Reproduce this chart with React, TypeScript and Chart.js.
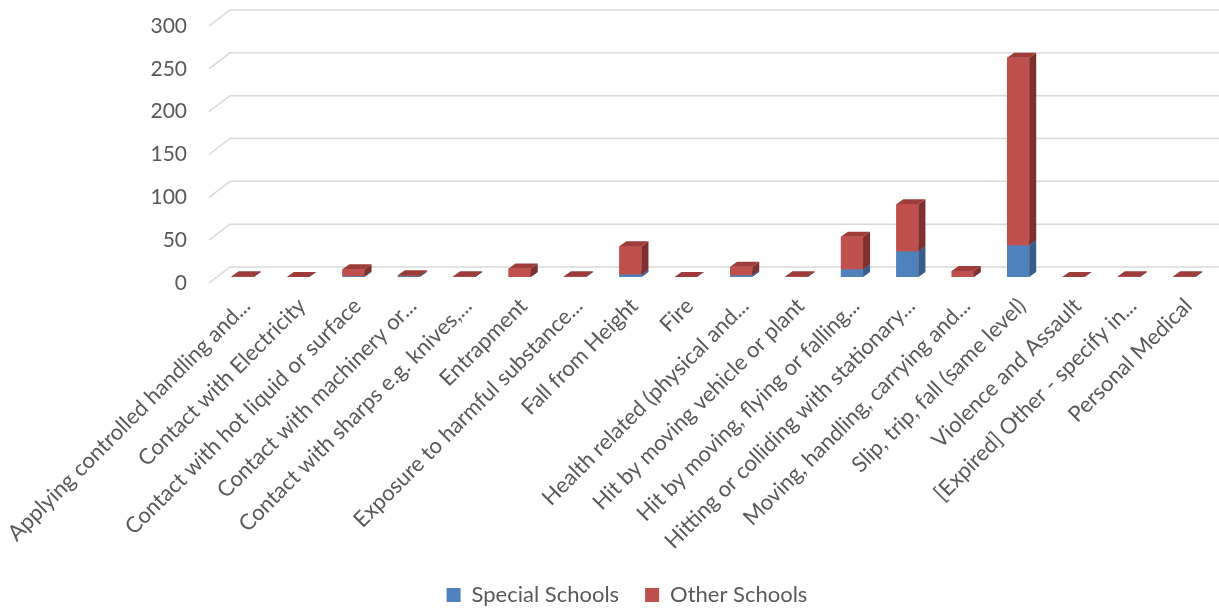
import React, { useEffect, useRef } from 'react';
import { Chart, registerables } from 'chart.js';

Chart.register(...registerables);

const categories = [
  'Applying controlled handling and...',
  'Contact with Electricity',
  'Contact with hot liquid or surface',
  'Contact with machinery or...',
  'Contact with sharps e.g. knives,...',
  'Entrapment',
  'Exposure to harmful substance...',
  'Fall from Height',
  'Fire',
  'Health related (physical and...',
  'Hit by moving vehicle or plant',
  'Hit by moving, flying or falling...',
  'Hitting or colliding with stationary...',
  'Moving, handling, carrying and...',
  'Slip, trip, fall (same level)',
  'Violence and Assault',
  '[Expired] Other - specify in...',
  'Personal Medical',
];

const specialSchools = [0, 0, 1, 1, 0, 0, 0, 3, 0, 2, 0, 9, 30, 0, 37, 0, 0, 0];
const otherSchools = [1, 0, 8, 1, 1, 10, 1, 33, 0, 10, 1, 38, 55, 7, 219, 0, 1, 1];

const yMax = 300;
const yStep = 50;

const FONT = 'Lato, "Noto Sans", sans-serif';
const TEXT = '#595959';
const GRID = '#D9D9D9';
const DX = 7;
const DY = 5;

const faces = [
  { front: '#4F81BD', side: '#385D8A', top: '#4672A8' },
  { front: '#C0504D', side: '#7F302E', top: '#9E3C39' },
];

const zeroPad = (s: any) => {
  s.paddingTop = 0;
  s.paddingBottom = 0;
  s.paddingLeft = 0;
  s.paddingRight = 0;
};

const gridPlugin = {
  id: 'grid3d',
  beforeDatasetsDraw(chart: any) {
    const { ctx, chartArea } = chart;
    const yScale = chart.scales.y;
    ctx.save();
    ctx.strokeStyle = GRID;
    ctx.lineWidth = 1.5;
    yScale.ticks.forEach((t: any) => {
      const y = yScale.getPixelForValue(t.value);
      ctx.beginPath();
      ctx.moveTo(chartArea.left - 6, y + 6);
      ctx.lineTo(chartArea.left + 15, y - 10);
      ctx.lineTo(chart.width, y - 10);
      ctx.stroke();
    });
    ctx.restore();
  },
};

const barsPlugin = {
  id: 'bars3d',
  afterDatasetsDraw(chart: any) {
    const { ctx } = chart;
    ctx.save();
    chart.data.datasets.forEach((_ds: any, di: number) => {
      const meta = chart.getDatasetMeta(di);
      const f = faces[di];
      meta.data.forEach((bar: any) => {
        const { x, y, base, width } = bar.getProps(['x', 'y', 'base', 'width'], true);
        const l = x - width / 2;
        const r = x + width / 2;
        const top = Math.min(y, base);
        const bottom = Math.max(y, base);
        ctx.fillStyle = f.front;
        ctx.fillRect(l, top, width, bottom - top);
        ctx.fillStyle = f.side;
        ctx.beginPath();
        ctx.moveTo(r, bottom);
        ctx.lineTo(r + DX, bottom - DY);
        ctx.lineTo(r + DX, top - DY);
        ctx.lineTo(r, top);
        ctx.closePath();
        ctx.fill();
        ctx.fillStyle = f.top;
        ctx.beginPath();
        ctx.moveTo(l, top);
        ctx.lineTo(l + DX, top - DY);
        ctx.lineTo(r + DX, top - DY);
        ctx.lineTo(r, top);
        ctx.closePath();
        ctx.fill();
      });
    });
    ctx.restore();
  },
};

export default function App() {
  const ref = useRef<HTMLCanvasElement>(null);

  useEffect(() => {
    const chart = new Chart(ref.current as HTMLCanvasElement, {
      type: 'bar',
      data: {
        labels: categories,
        datasets: [
          {
            label: 'Special Schools',
            data: specialSchools,
            backgroundColor: faces[0].front,
            categoryPercentage: 1,
            barPercentage: 0.4,
          },
          {
            label: 'Other Schools',
            data: otherSchools,
            backgroundColor: faces[1].front,
            categoryPercentage: 1,
            barPercentage: 0.4,
          },
        ],
      },
      options: {
        responsive: false,
        animation: false,
        devicePixelRatio: 1,
        layout: {
          autoPadding: false,
          padding: { top: 20, right: 7, bottom: -4, left: 42 },
        },
        plugins: {
          legend: {
            position: 'bottom',
            labels: {
              boxWidth: 14,
              boxHeight: 14,
              padding: 26,
              color: TEXT,
              font: { family: FONT, size: 22 },
            },
          },
          tooltip: { enabled: false },
        },
        scales: {
          x: {
            stacked: true,
            grid: { display: false, drawTicks: false },
            border: { display: false },
            afterFit: (s: any) => {
              s.height = 281;
              zeroPad(s);
            },
            ticks: {
              autoSkip: false,
              maxRotation: 45,
              minRotation: 45,
              padding: 16,
              labelOffset: 4,
              color: TEXT,
              font: { family: FONT, size: 22 },
            },
          },
          y: {
            stacked: true,
            min: 0,
            max: yMax,
            grid: { display: false, drawTicks: false },
            border: { display: false },
            afterFit: (s: any) => {
              s.width = 173;
              zeroPad(s);
            },
            ticks: {
              stepSize: yStep,
              padding: 28,
              labelOffset: 6,
              color: TEXT,
              font: { family: FONT, size: 21 },
            },
          },
        },
      },
      plugins: [gridPlugin, barsPlugin],
    });
    return () => chart.destroy();
  }, []);

  return (
    <div style={{ position: 'absolute', left: 0, top: 0, width: 1219, height: 612, background: '#fff' }}>
      <canvas ref={ref} width={1219} height={612} style={{ display: 'block' }} />
    </div>
  );
}
